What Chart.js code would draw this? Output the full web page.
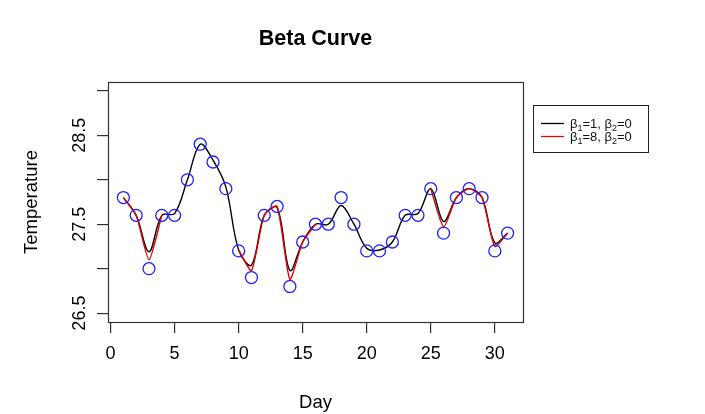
<!DOCTYPE html>
<html>
<head>
<meta charset="utf-8">
<script src="https://cdn.jsdelivr.net/npm/chart.js@4"></script>
<style>
html,body{margin:0;padding:0;background:#fff;}
#wrap{width:705px;height:414px;}
</style>
</head>
<body>
<div id="wrap"><canvas id="c" width="705" height="414"></canvas></div>
<script>
const days = [1,2,3,4,5,6,7,8,9,10,11,12,13,14,15,16,17,18,19,20,21,22,23,24,25,26,27,28,29,30,31];
const observed = [27.8,27.6,27.0,27.6,27.6,28.0,28.4,28.2,27.9,27.2,26.9,27.6,27.7,26.8,27.3,27.5,27.5,27.8,27.5,27.2,27.2,27.3,27.6,27.6,27.9,27.4,27.8,27.9,27.8,27.2,27.4];
const curveB1 = [27.8,27.6,27.19,27.6,27.62,28.0,28.4,28.22,27.92,27.21,27.04,27.6,27.69,26.98,27.3,27.5,27.5,27.71,27.5,27.23,27.21,27.3,27.6,27.62,27.9,27.53,27.8,27.9,27.8,27.29,27.4];
const curveB8 = [27.8,27.6,27.1,27.6,null,null,null,null,null,27.21,26.98,27.6,27.7,26.88,27.3,27.5,null,null,null,null,null,null,null,null,27.9,27.47,27.8,27.9,27.8,27.25,27.4];
const xTicks = [0,5,10,15,20,25,30];
const yTicks = [26.5,27,27.5,28,28.5,29];
const yLabels = [26.5,27.5,28.5];
const titleText = 'Beta Curve';
const xTitle = 'Day';
const yTitle = 'Temperature';
const legendItems = [
  {color:'#000000', b1:'1', b2:'0'},
  {color:'#e60000', b1:'8', b2:'0'}
];

const FONT = '"Liberation Sans", Arial, Helvetica, sans-serif';

const pts = (arr) => days.map((d,i)=>({x:d, y:arr[i]}));

const decor = {
  id:'decor',
  afterDraw(chart){
    const ctx = chart.ctx, a = chart.chartArea;
    const ys = chart.scales.y;
    ctx.save();
    // box
    ctx.strokeStyle = '#333';
    ctx.lineWidth = 1.2;
    ctx.strokeRect(Math.round(a.left)+0.5, Math.round(a.top)+0.5, Math.round(a.right-a.left), Math.round(a.bottom-a.top));
    // y tick labels (rotated, as in base R)
    ctx.fillStyle = '#000';
    ctx.font = '18px ' + FONT;
    ctx.textAlign = 'center';
    ctx.textBaseline = 'alphabetic';
    yLabels.forEach(v=>{
      const py = ys.getPixelForValue(v);
      ctx.save();
      ctx.translate(85, py);
      ctx.rotate(-Math.PI/2);
      ctx.fillText(v.toFixed(1), 0, 0);
      ctx.restore();
    });
    // title
    const cx = (a.left + a.right)/2;
    ctx.font = 'bold 21.5px ' + FONT;
    ctx.fillText(titleText, cx, 45);
    // x title
    ctx.font = '18.5px ' + FONT;
    ctx.fillText(xTitle, cx, 408);
    // y title
    ctx.save();
    ctx.translate(37, (a.top + a.bottom)/2);
    ctx.rotate(-Math.PI/2);
    ctx.font = '18.5px ' + FONT;
    ctx.fillText(yTitle, 0, 0);
    ctx.restore();
    // legend
    const lx = 533, ly = 105, lw = 115, lh = 47;
    ctx.strokeStyle = '#222';
    ctx.lineWidth = 1;
    ctx.strokeRect(lx+0.5, ly+0.5, lw, lh);
    ctx.textAlign = 'left';
    legendItems.forEach((it, i)=>{
      const y = 123.5 + i*13;
      ctx.strokeStyle = it.color;
      ctx.lineWidth = 1.3;
      ctx.beginPath();
      ctx.moveTo(541, y); ctx.lineTo(564, y); ctx.stroke();
      let x = 570;
      const base = y + 4.5;
      const seg = (t, size, dy) => {
        ctx.font = size + 'px ' + FONT;
        ctx.fillStyle = '#111';
        ctx.fillText(t, x, base + dy);
        x += ctx.measureText(t).width;
      };
      seg('\u03B2', 13, 0); seg('1', 9, 3); seg('=' + it.b1 + ', ', 13, 0);
      seg('\u03B2', 13, 0); seg('2', 9, 3); seg('=' + it.b2, 13, 0);
    });
    ctx.restore();
  }
};

new Chart(document.getElementById('c'), {
  type:'line',
  data:{
    datasets:[
      {label:'Observed', data:pts(observed), showLine:false, pointStyle:'circle', pointRadius:6, pointHoverRadius:6,
       pointBorderColor:'#1f1fff', pointBackgroundColor:'rgba(0,0,0,0)', pointBorderWidth:1.3, order:0},
      {label:'β1=8, β2=0', data:pts(curveB8), borderColor:'#e60000', borderWidth:1.4, pointRadius:0, tension:0.2, spanGaps:false, fill:false, order:1},
      {label:'β1=1, β2=0', data:pts(curveB1), borderColor:'#000000', borderWidth:1.4, pointRadius:0, tension:0.35, fill:false, order:2}
    ]
  },
  options:{
    responsive:false,
    animation:false,
    events:[],
    layout:{padding:{top:82, right:182, left:0, bottom:0}},
    plugins:{legend:{display:false}, title:{display:false}, tooltip:{enabled:false}},
    scales:{
      x:{
        type:'linear', min:-0.2, max:32.2,
        afterBuildTicks(s){ s.ticks = xTicks.map(v=>({value:v})); },
        afterFit(s){ s.height = 92; },
        grid:{display:true, drawOnChartArea:false, drawTicks:true, tickLength:11, color:'#333', lineWidth:1.2},
        border:{display:false},
        ticks:{color:'#000', font:{family:FONT, size:18}, padding:10, maxRotation:0, autoSkip:false}
      },
      y:{
        type:'linear', min:26.4, max:29.1,
        afterBuildTicks(s){ s.ticks = yTicks.map(v=>({value:v})); },
        afterFit(s){ s.width = 108; },
        grid:{display:true, drawOnChartArea:false, drawTicks:true, tickLength:11, color:'#333', lineWidth:1.2},
        border:{display:false},
        ticks:{display:false}
      }
    }
  },
  plugins:[decor]
});
</script>
</body>
</html>
